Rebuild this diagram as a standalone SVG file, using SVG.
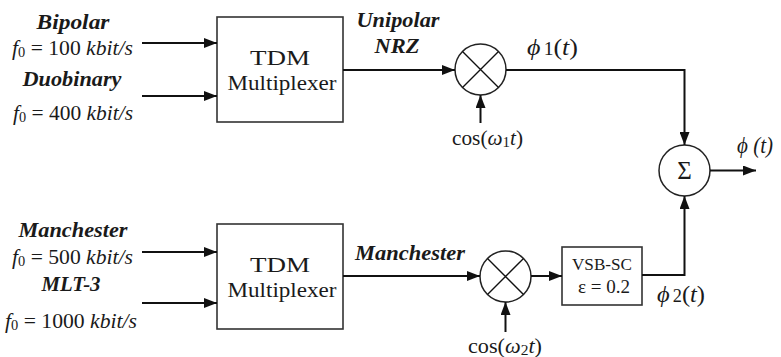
<svg xmlns="http://www.w3.org/2000/svg" width="781" height="357" viewBox="0 0 781 357">
<defs>
<marker id="ah" viewBox="0 0 13 10" refX="13" refY="5" markerWidth="13" markerHeight="10" markerUnits="userSpaceOnUse" orient="auto">
<path d="M0,0 L13,5 L0,10 Z" fill="#111"/>
</marker>
</defs>
<style>
text{font-family:"Liberation Serif","DejaVu Serif",serif;fill:#1a1a1a}
.lbl{font-size:21px;font-weight:bold;font-style:italic}
.rate{font-size:21px}
.it{font-style:italic}
.box{fill:#fff;stroke:#333;stroke-width:1.6}
.circ{fill:#fff;stroke:#222;stroke-width:1.5}
.ln{fill:none;stroke:#111;stroke-width:1.4}
.arr{fill:none;stroke:#111;stroke-width:2;marker-end:url(#ah)}
.blk{font-size:22px}
.sub{font-size:14px}
</style>
<rect width="781" height="357" fill="#fff"/>

<g id="labels-inputs">
<text class="lbl" x="73" y="29" text-anchor="middle" textLength="73" lengthAdjust="spacingAndGlyphs">Bipolar</text>
<text class="rate" x="12" y="55" textLength="121" lengthAdjust="spacingAndGlyphs"><tspan class="it">f</tspan><tspan class="sub" dy="2">0</tspan><tspan dy="-2"> = 100 </tspan><tspan class="it">kbit/s</tspan></text>
<text class="lbl" x="72" y="86" text-anchor="middle" textLength="99" lengthAdjust="spacingAndGlyphs">Duobinary</text>
<text class="rate" x="13" y="120" textLength="120" lengthAdjust="spacingAndGlyphs"><tspan class="it">f</tspan><tspan class="sub" dy="2">0</tspan><tspan dy="-2"> = 400 </tspan><tspan class="it">kbit/s</tspan></text>
<text class="lbl" x="73" y="237" text-anchor="middle" textLength="109" lengthAdjust="spacingAndGlyphs">Manchester</text>
<text class="rate" x="12" y="264" textLength="121" lengthAdjust="spacingAndGlyphs"><tspan class="it">f</tspan><tspan class="sub" dy="2">0</tspan><tspan dy="-2"> = 500 </tspan><tspan class="it">kbit/s</tspan></text>
<text class="lbl" x="71" y="291" text-anchor="middle" textLength="59" lengthAdjust="spacingAndGlyphs">MLT-3</text>
<text class="rate" x="5" y="328" textLength="132" lengthAdjust="spacingAndGlyphs"><tspan class="it">f</tspan><tspan class="sub" dy="2">0</tspan><tspan dy="-2"> = 1000 </tspan><tspan class="it">kbit/s</tspan></text>
</g>

<g id="tdm1">
<rect class="box" x="217" y="17" width="126" height="105"/>
<text class="blk" x="280" y="65" text-anchor="middle" textLength="60" lengthAdjust="spacingAndGlyphs">TDM</text>
<text class="blk" x="282" y="90" text-anchor="middle" textLength="109" lengthAdjust="spacingAndGlyphs">Multiplexer</text>
</g>

<g id="tdm2">
<rect class="box" x="217" y="224" width="126" height="105"/>
<text class="blk" x="280" y="272" text-anchor="middle" textLength="60" lengthAdjust="spacingAndGlyphs">TDM</text>
<text class="blk" x="282" y="297" text-anchor="middle" textLength="109" lengthAdjust="spacingAndGlyphs">Multiplexer</text>
</g>

<g id="mixer1">
<circle class="circ" cx="480.5" cy="69.5" r="25.5"/>
<path class="ln" d="M462.5,51.5 L498.5,87.5 M498.5,51.5 L462.5,87.5"/>
</g>

<g id="mixer2">
<circle class="circ" cx="505.5" cy="276.5" r="25.5"/>
<path class="ln" d="M487.5,258.5 L523.5,294.5 M523.5,258.5 L487.5,294.5"/>
</g>

<g id="sum">
<circle class="circ" cx="684.5" cy="170.5" r="25.5"/>
<text x="684.5" y="179" text-anchor="middle" style="font-size:25px">Σ</text>
</g>

<g id="vsb">
<rect class="box" x="562" y="247" width="80" height="58"/>
<text x="602" y="270" text-anchor="middle" style="font-size:17px" textLength="60" lengthAdjust="spacingAndGlyphs">VSB-SC</text>
<text x="604" y="293" text-anchor="middle" style="font-size:18px" textLength="52" lengthAdjust="spacingAndGlyphs">ε = 0.2</text>
</g>

<g id="connectors">
<line class="arr" x1="142" y1="43" x2="217" y2="43"/>
<line class="arr" x1="142" y1="96" x2="217" y2="96"/>
<line class="arr" x1="142" y1="252" x2="217" y2="252"/>
<line class="arr" x1="142" y1="303" x2="217" y2="303"/>
<line class="arr" x1="343" y1="70" x2="455" y2="70"/>
<line class="arr" x1="480.5" y1="123" x2="480.5" y2="95"/>
<polyline class="arr" points="506,70 684.5,70 684.5,145"/>
<line class="arr" x1="710" y1="170.5" x2="756" y2="170.5"/>
<line class="arr" x1="343" y1="276" x2="480" y2="276"/>
<line class="arr" x1="505.5" y1="332" x2="505.5" y2="302"/>
<line class="arr" x1="531" y1="276" x2="562" y2="276"/>
<polyline class="arr" points="642,275 684.5,275 684.5,196"/>
</g>

<g id="signal-labels">
<text class="lbl" x="398" y="27" text-anchor="middle" textLength="83" lengthAdjust="spacingAndGlyphs">Unipolar</text>
<text class="lbl" x="397" y="53" text-anchor="middle" textLength="45" lengthAdjust="spacingAndGlyphs">NRZ</text>
<text x="527" y="55" style="font-size:24px" textLength="51" lengthAdjust="spacingAndGlyphs"><tspan class="it">ϕ</tspan><tspan style="font-size:18px" dx="3">1</tspan>(<tspan class="it">t</tspan>)</text>
<text x="452" y="145" style="font-size:20px" textLength="71" lengthAdjust="spacingAndGlyphs">cos(<tspan class="it">ω</tspan><tspan class="sub" dy="2">1</tspan><tspan class="it" dy="-2">t</tspan>)</text>
<text class="it" x="737" y="153" style="font-size:24px" textLength="36" lengthAdjust="spacingAndGlyphs">ϕ (t)</text>
<text class="lbl" x="410" y="260" text-anchor="middle" textLength="110" lengthAdjust="spacingAndGlyphs">Manchester</text>
<text x="657" y="302" style="font-size:24px" textLength="48" lengthAdjust="spacingAndGlyphs"><tspan class="it">ϕ</tspan><tspan style="font-size:18px" dx="3">2</tspan>(<tspan class="it">t</tspan>)</text>
<text x="468" y="353" style="font-size:20px" textLength="74" lengthAdjust="spacingAndGlyphs">cos(<tspan class="it">ω</tspan><tspan class="sub" dy="2">2</tspan><tspan class="it" dy="-2">t</tspan>)</text>
</g>
</svg>
